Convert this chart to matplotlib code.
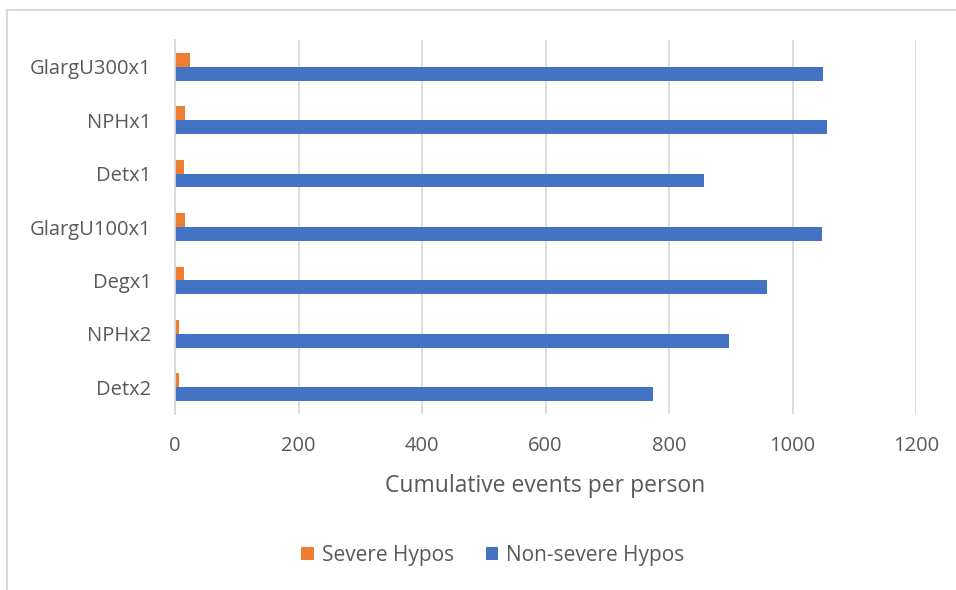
import numpy as np
import matplotlib.pyplot as plt
from matplotlib.lines import Line2D

categories = ["GlargU300x1", "NPHx1", "Detx1", "GlargU100x1", "Degx1", "NPHx2", "Detx2"]
severe = [25, 17, 15, 17, 15, 7, 7]
non_severe = [1050, 1056, 856, 1047, 959, 897, 774]
xticks = [0, 200, 400, 600, 800, 1000, 1200]

plt.rcParams['font.family'] = ['Open Sans', 'DejaVu Sans']
text_col = "#595959"

W, H = 956, 590
fig = plt.figure(figsize=(W / 100, H / 100), dpi=100)
ax = fig.add_axes([175 / W, 1 - 414 / H, (916 - 175) / W, (414 - 40) / H])

y = np.arange(len(categories))
bh = 0.26
ax.barh(y - bh / 2, severe, height=bh, color="#ED7D31", label="Severe Hypos", zorder=3)
ax.barh(y + bh / 2, non_severe, height=bh, color="#4472C4", label="Non-severe Hypos", zorder=3)

ax.set_xlim(0, 1200)
ax.set_ylim(len(categories) - 0.5, -0.5)
ax.set_xticks(xticks)
ax.set_xticklabels([str(t) for t in xticks])
ax.set_yticks(y)
ax.set_yticklabels(categories)
ax.tick_params(axis="both", length=0, labelsize=14.5, labelcolor=text_col)
ax.tick_params(axis="y", pad=17)
ax.tick_params(axis="x", pad=16)
ax.grid(axis="x", color="#D9D9D9", linewidth=1.3, zorder=0)
for s in ["top", "right", "bottom"]:
    ax.spines[s].set_visible(False)
ax.spines["left"].set_color("#D9D9D9")
ax.spines["left"].set_linewidth(1.3)
ax.spines["left"].set_zorder(4)

ax.set_xlabel("Cumulative events per person", fontsize=16.5, color=text_col, labelpad=13)

fig.legend(loc="center", bbox_to_anchor=(493 / W, 1 - 555 / H), ncol=2, frameon=False,
           fontsize=15, labelcolor=text_col, handlelength=0.6, handleheight=0.6,
           handletextpad=0.4, columnspacing=1.5)

# chart-area border (left and top visible in the crop)
fig.add_artist(Line2D([7 / W, 7 / W], [0, 1 - 10 / H], color="#D9D9D9", linewidth=1.5))
fig.add_artist(Line2D([7 / W, 1], [1 - 10 / H, 1 - 10 / H], color="#D9D9D9", linewidth=1.5))

fig.savefig("out.png", dpi=100)
